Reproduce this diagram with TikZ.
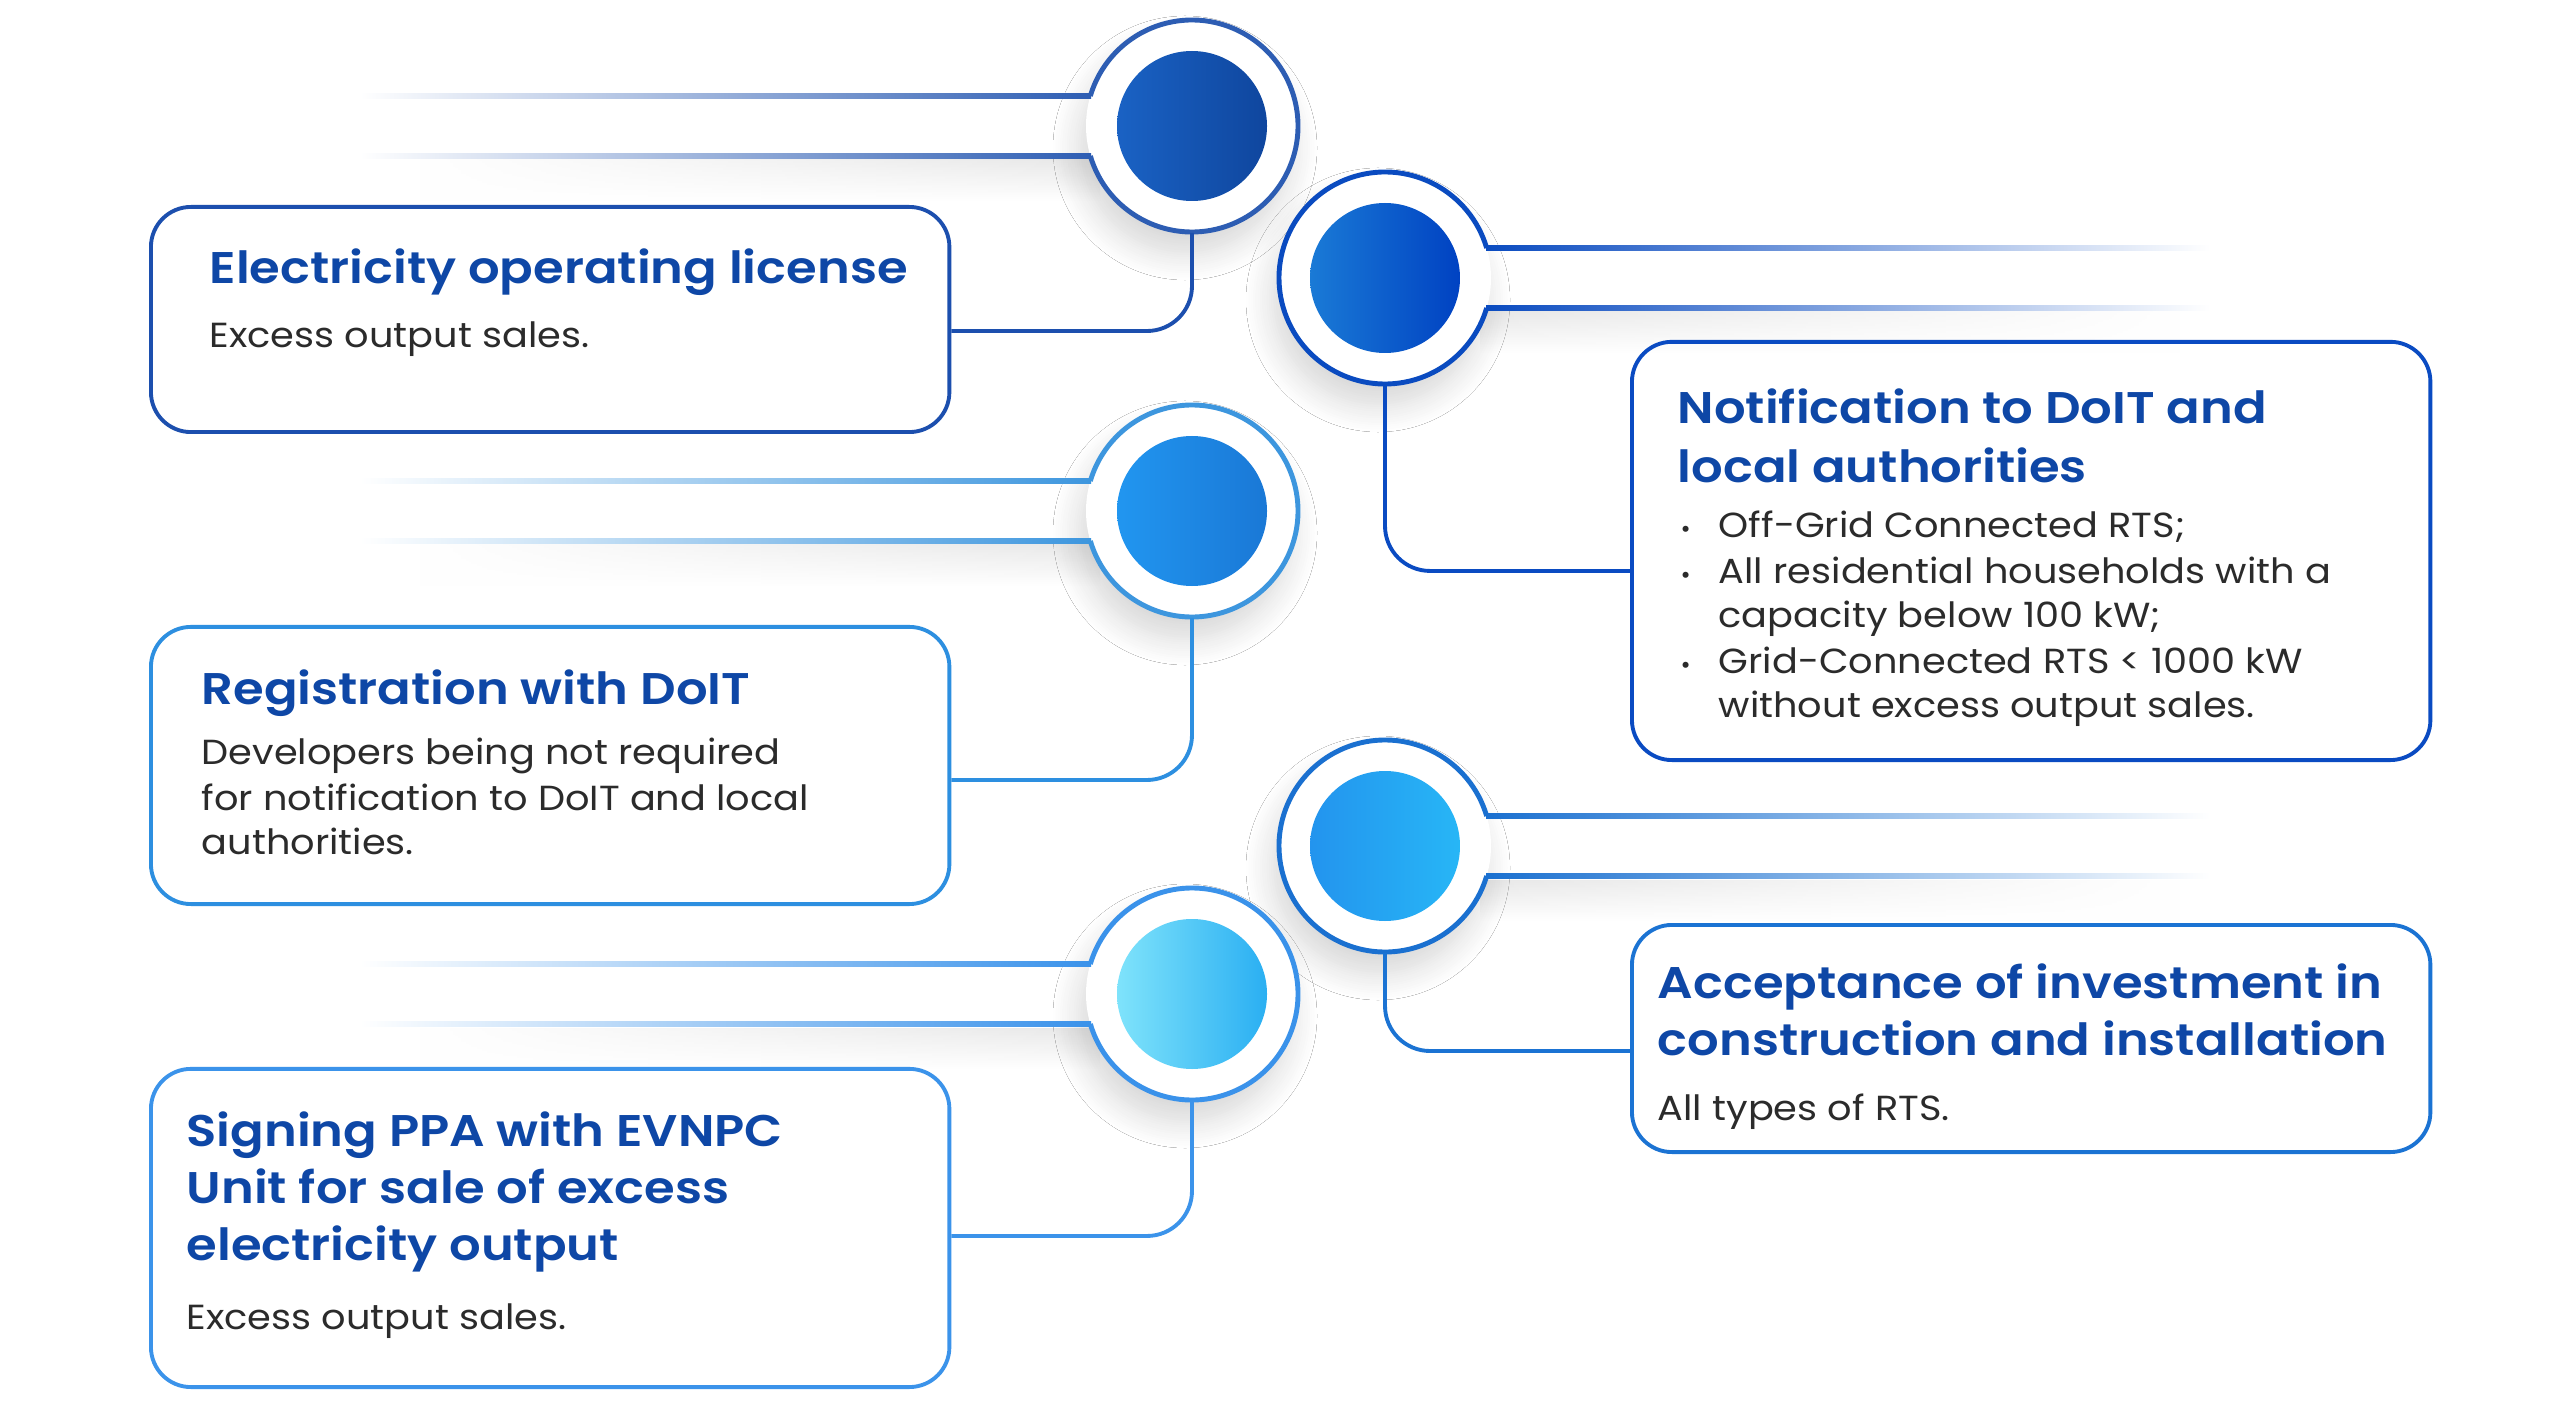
\documentclass[tikz,border=0pt]{standalone}
\usepackage{fontspec}
\setmainfont{Poppins}
\newfontfamily\ttlfont{Poppins SemiBold}[FakeStretch=1.12]
\newfontfamily\txtfont{Poppins}[FakeStretch=1.1]
\usetikzlibrary{shadows.blur,fadings}
\definecolor{titlec}{HTML}{0E47A6}
\definecolor{bodyc}{HTML}{2B2B2B}
\definecolor{ringA}{HTML}{2D5DB3}
\definecolor{ringB}{HTML}{0A4BC0}
\definecolor{ringC}{HTML}{3D96DE}
\definecolor{ringD}{HTML}{1A70D0}
\definecolor{ringE}{HTML}{3A92EA}
\definecolor{boxA}{HTML}{1C4FAE}
\definecolor{boxB}{HTML}{0A4BC2}
\definecolor{boxC}{HTML}{2D8FE0}
\definecolor{boxD}{HTML}{1B73D3}
\definecolor{boxE}{HTML}{3B93EA}
\definecolor{dAl}{HTML}{1A62C4}\definecolor{dAr}{HTML}{0F469E}
\definecolor{dBl}{HTML}{1A7AD6}\definecolor{dBr}{HTML}{0042C2}
\definecolor{dCl}{HTML}{2196F0}\definecolor{dCr}{HTML}{1A78D6}
\definecolor{dDl}{HTML}{2394EE}\definecolor{dDr}{HTML}{27B6F6}
\definecolor{dEl}{HTML}{7FE3FB}\definecolor{dEr}{HTML}{2AAFF2}
\tikzfading[name=fadetoleft, left color=transparent!100, right color=transparent!0]
\tikzfading[name=fadetoright, left color=transparent!0, right color=transparent!100]
\begin{document}
\begin{tikzpicture}[x=0.01cm,y=0.01cm,
  hub/.style={circle, minimum size=2.12cm, inner sep=0pt},
  ring/.style={line width=1.4pt},
  conn/.style={line width=1.1pt, rounded corners=0.45cm},
  card/.style={draw, line width=1.1pt, rounded corners=0.4cm, minimum width=7.98cm, anchor=south west, inner sep=0pt},
  ttl/.style={anchor=base west, inner sep=0pt, font=\ttlfont\fontsize{12.6}{14}\selectfont, text=titlec},
  txt/.style={anchor=base west, inner sep=0pt, font=\txtfont\fontsize{9.9}{12}\selectfont, text=bodyc},
  bul/.style={anchor=base west, inner sep=0pt, font=\fontsize{7}{12}\selectfont, text=bodyc},
  shadowc/.style={blur shadow={shadow xshift=-0.07cm, shadow yshift=-0.22cm, shadow blur radius=0.26cm, shadow blur steps=12, shadow opacity=16}}
]
\useasboundingbox (0,0) rectangle (2560,1420);
\fill[white] (0,0) rectangle (2560,1420);

% hub nodes
\node[hub] (c1) at (1192,1294) {};
\node[hub] (c2) at (1385,1142) {};
\node[hub] (c3) at (1192,909) {};
\node[hub] (c4) at (1385,574) {};
\node[hub] (c5) at (1192,426) {};

% bar shadows
\foreach \cy in {1294,909,426}{
  \shade[top color=black!9, bottom color=white, path fading=fadetoleft] (420,\cy-34) rectangle (1100,\cy-75);
}
\foreach \cy in {1142,574}{
  \shade[top color=black!9, bottom color=white, path fading=fadetoright] (1480,\cy-34) rectangle (2180,\cy-75);
}

% circle shadows
\foreach \n in {c1,c2,c3,c4,c5}{
  \fill[white, shadowc] (\n.center) circle (106);
}

% bars (left)
\foreach \cy/\col in {1294/ringA,909/ringC,426/ringE}{
  \shade[left color=white, right color=\col] (360,\cy+27.5) rectangle (1091,\cy+32.5);
  \shade[left color=white, right color=\col] (360,\cy-32.5) rectangle (1091,\cy-27.5);
}
% bars (right)
\foreach \cy/\col in {1142/ringB,574/ringD}{
  \shade[left color=\col, right color=white] (1486,\cy+27.5) rectangle (2210,\cy+32.5);
  \shade[left color=\col, right color=white] (1486,\cy-32.5) rectangle (2210,\cy-27.5);
}

% rings
\draw[ring, ringA] (c1.center) ++(196.43:106) arc[start angle=196.43, end angle=523.57, radius=106];
\draw[ring, ringC] (c3.center) ++(196.43:106) arc[start angle=196.43, end angle=523.57, radius=106];
\draw[ring, ringE] (c5.center) ++(196.43:106) arc[start angle=196.43, end angle=523.57, radius=106];
\draw[ring, ringB] (c2.center) ++(16.43:106) arc[start angle=16.43, end angle=343.57, radius=106];
\draw[ring, ringD] (c4.center) ++(16.43:106) arc[start angle=16.43, end angle=343.57, radius=106];

% inner discs
\shade[left color=dAl, right color=dAr] (c1.center) circle (75);
\shade[left color=dBl, right color=dBr] (c2.center) circle (75);
\shade[left color=dCl, right color=dCr] (c3.center) circle (75);
\shade[left color=dDl, right color=dDr] (c4.center) circle (75);
\shade[left color=dEl, right color=dEr] (c5.center) circle (75);

% cards
\node[card, draw=boxA, minimum height=2.25cm] (box1) at (149,986) {};
\node[card, draw=boxB, minimum height=4.18cm] (box2) at (1630,658) {};
\node[card, draw=boxC, minimum height=2.77cm] (box3) at (149,514) {};
\node[card, draw=boxD, minimum height=2.27cm] (box4) at (1630,266) {};
\node[card, draw=boxE, minimum height=3.18cm] (box5) at (149,31) {};

% connectors
\draw[conn, boxA] (c1.south) |- ([yshift=-0.115cm]box1.east);
\draw[conn, boxB] (c2.south) |- ([yshift=-0.2cm]box2.west);
\draw[conn, boxC] (c3.south) |- ([yshift=-0.145cm]box3.east);
\draw[conn, boxD] (c4.south) |- ([yshift=-0.125cm]box4.west);
\draw[conn, boxE] (c5.south) |- ([yshift=-0.08cm]box5.east);

% texts box 1
\node[ttl] (t1) at (209,1136) {Electricity operating license};
\node[txt] (b1) at (209,1072) {Excess output sales.};

% texts box 2
\node[ttl] (t2a) at (1677,996) {Notification to DoIT and};
\node[ttl] (t2b) at (1677,938) {local authorities};
\node[bul] (u2a) at (1680,883) {•};
\node[txt] (b2a) at (1718,883) {Off-Grid Connected RTS;};
\node[bul] (u2b) at (1680,837) {•};
\node[txt] (b2b) at (1718,837) {All residential households with a};
\node[txt] (b2c) at (1718,793) {capacity below 100 kW;};
\node[bul] (u2c) at (1680,747) {•};
\node[txt] (b2d) at (1718,747) {Grid-Connected RTS < 1000 kW};
\node[txt] (b2e) at (1718,703) {without excess output sales.};

% texts box 3
\node[ttl] (t3) at (201,716) {Registration with DoIT};
\node[txt] (b3a) at (201,656) {Developers being not required};
\node[txt] (b3b) at (201,610) {for notification to DoIT and local};
\node[txt] (b3c) at (201,566) {authorities.};

% texts box 4
\node[ttl] (t4a) at (1657,422) {Acceptance of investment in};
\node[ttl] (t4b) at (1657,365) {construction and installation};
\node[txt] (b4) at (1657,300) {All types of RTS.};

% texts box 5
\node[ttl] (t5a) at (186,274) {Signing PPA with EVNPC};
\node[ttl] (t5b) at (186,217) {Unit for sale of excess};
\node[ttl] (t5c) at (186,160) {electricity output};
\node[txt] (b5) at (186,91) {Excess output sales.};
\end{tikzpicture}
\end{document}
